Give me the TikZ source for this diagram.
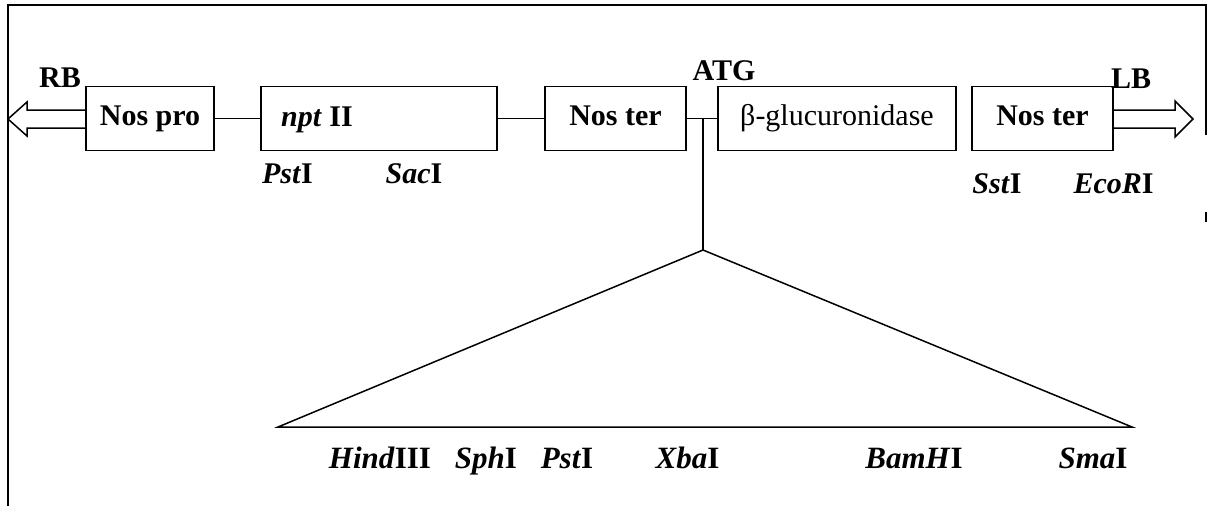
\documentclass[tikz,border=0pt]{standalone}
\usepackage{fontspec}
\setmainfont{Liberation Serif}
\begin{document}
\begin{tikzpicture}[x=1pt,y=-1pt,
  lw/.style={line width=1.5pt},
  gene/.style={draw,lw,minimum height=64pt,inner sep=0pt,text height=20pt,text depth=7pt,font=\fontsize{30}{36}\selectfont},
  lbl/.style={anchor=base,inner sep=0pt,font=\fontsize{30}{36}\selectfont\bfseries},
  site/.style={anchor=base,inner sep=0pt,font=\fontsize{30}{36}\selectfont\bfseries},
  lowsite/.style={anchor=base,inner sep=0pt,font=\fontsize{31}{36}\selectfont\bfseries}]
\useasboundingbox (0,0) rectangle (1208,506);
% frame
\draw[lw] (8,506) -- (8,5) -- (1206,5) -- (1206,135);
\draw[lw] (1206,212) -- (1206,222);
% boxes
\node[gene,minimum width=128pt,font=\fontsize{30}{36}\selectfont\bfseries] (nospro) at (150,118.5) {Nos pro};
\node[gene,minimum width=236pt] (npt) at (379,118.5) {};
\node[lbl,anchor=base west] (nptlbl) at (281,126) {\textit{npt} II};
\node[gene,minimum width=141pt,font=\fontsize{30}{36}\selectfont\bfseries] (noster1) at (615.5,118.5) {Nos ter};
\node[gene,minimum width=238pt] (gus) at (837,118.5) {β-glucuronidase};
\node[gene,minimum width=141pt,font=\fontsize{30}{36}\selectfont\bfseries] (noster2) at (1042.5,118.5) {Nos ter};
% connectors
\draw[lw] (nospro.east) -- (npt.west);
\draw[lw] (npt.east) -- (noster1.west);
\draw[lw] (noster1.east) -- (gus.west);
\coordinate (junc) at (703,118.5);
\coordinate (apex) at (703,250);
\coordinate (tl) at (278,427);
\coordinate (tr) at (1132,427);
\draw[lw] (junc) -- (apex);
\draw[lw] (tl) -- (apex) -- (tr) -- cycle;
% border arrows
\draw[lw,line join=miter] (nospro.west |- 0,110) -- (27,110) -- (27,102) -- (8,119) -- (27,136) -- (27,128) -- (nospro.west |- 0,128);
\draw[lw,line join=miter] (noster2.east |- 0,110) -- (1175,110) -- (1175,101) -- (1193,119) -- (1175,137) -- (1175,128) -- (noster2.east |- 0,128);
% labels
\node[lbl] (rb) at (60,87) {RB};
\node[lbl] (lb) at (1131,88) {LB};
\node[lbl] (atg) at (724,80) {ATG};
\node[site] (pst1) at (287.5,183) {\textit{Pst}I};
\node[site] (sac) at (414,183) {\textit{Sac}I};
\node[site] (sst) at (997,193) {\textit{Sst}I};
\node[site] (eco) at (1113.5,193) {\textit{EcoR}I};
\node[lowsite] (hind) at (380,468) {\textit{Hind}III};
\node[lowsite] (sph) at (486,468) {\textit{Sph}I};
\node[lowsite] (pst2) at (567,468) {\textit{Pst}I};
\node[lowsite] (xba) at (687.5,468) {\textit{Xba}I};
\node[lowsite] (bam) at (914,468) {\textit{BamH}I};
\node[lowsite] (sma) at (1093,468) {\textit{Sma}I};
\end{tikzpicture}
\end{document}
